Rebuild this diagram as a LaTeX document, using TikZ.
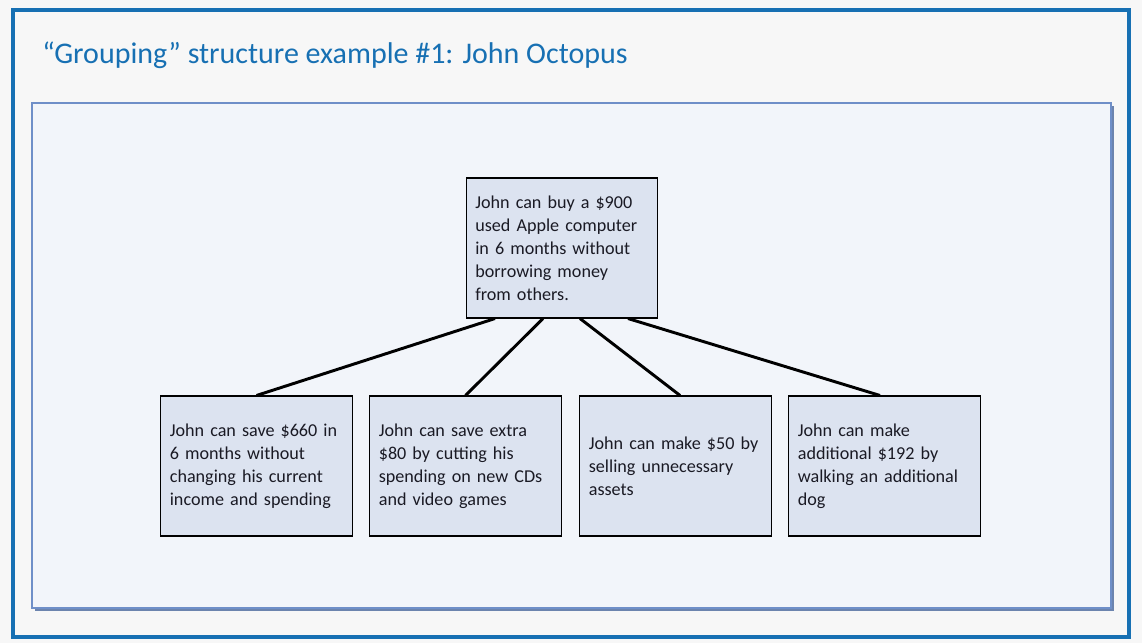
\documentclass[tikz,border=0pt]{standalone}
\usepackage{fontspec}
\setmainfont{Carlito}
\usepackage{xcolor}
\definecolor{pagebg}{HTML}{F7F7F7}
\definecolor{frameblue}{HTML}{1770B3}
\definecolor{panelfill}{HTML}{F2F5FA}
\definecolor{paneledge}{HTML}{6F8FC8}
\definecolor{panelshadow}{HTML}{6C84AE}
\definecolor{boxfill}{HTML}{DCE3F0}
\definecolor{boxtext}{HTML}{1A1A24}

\begin{document}
\begin{tikzpicture}[x=0.75pt, y=-0.75pt,
        idea/.style={draw=black, line width=0.8pt, fill=boxfill, text=boxtext,
                text width=130pt, align=left, minimum height=105pt, inner sep=6.75pt,
                font=\fontsize{13.6}{17.2}\selectfont},
        link/.style={line width=2.2pt, draw=black}]
                % page, frame and panel
                \fill[pagebg] (0,0) rectangle (1142,643);
                \draw[frameblue, line width=3pt] (13,10) rectangle (1129,637);
                \fill[panelshadow] (34.5,105.5) rectangle (1113.5,610.5);
                \draw[paneledge, fill=panelfill, line width=0.8pt] (32,103) rectangle (1111,608);
                \node[anchor=base west, text=frameblue, font=\fontsize{22.5}{26}\selectfont, inner sep=0pt]
                        (title) at (42,63) {“Grouping” structure example \#1: John Octopus};

                % boxes
                \node[idea] (root) at (562,248) {John can buy a \$900\\used Apple computer\\in 6 months without\\borrowing money\\from others.};
                \node[idea] (save) at (256.5,466) {John can save \$660 in\\6 months without\\changing his current\\income and spending};
                \node[idea] (extra) at (465.5,466) {John can save extra\\\$80 by cutting his\\spending on new CDs\\and video games};
                \node[idea] (sell) at (675.5,466) {John can make \$50 by\\selling unnecessary\\assets};
                \node[idea] (walk) at (884.5,466) {John can make\\additional \$192 by\\walking an additional\\dog};

                % connectors
                \draw[link] ([xshift=-50.25pt]root.south) -- (save.north);
                \draw[link] ([xshift=-14.25pt]root.south) -- (extra.north);
                \draw[link] ([xshift=13.5pt]root.south) -- ([xshift=3.4pt]sell.north);
                \draw[link] ([xshift=49.5pt]root.south) -- ([xshift=-3.4pt]walk.north);
\end{tikzpicture}
\end{document}
